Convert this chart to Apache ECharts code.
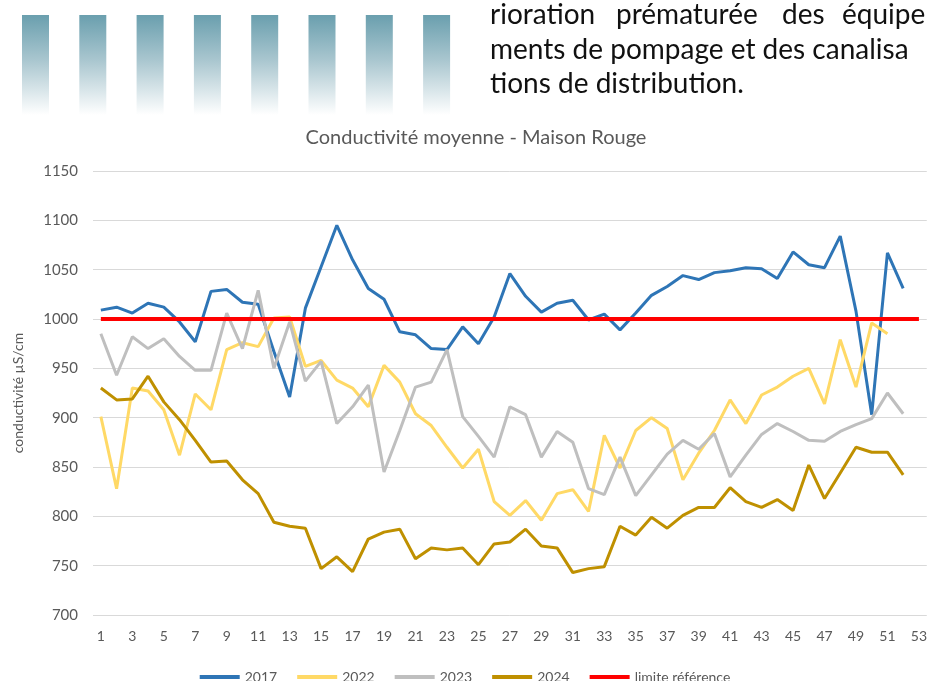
<!DOCTYPE html>
<html>
<head>
<meta charset="utf-8">
<title>Conductivité moyenne - Maison Rouge</title>
<script src="https://cdn.jsdelivr.net/npm/echarts@6/dist/echarts.min.js"></script>
<style>
    html, body {
        margin: 0;
        padding: 0;
        background: #fff;
    }
    #chart {
        width: 930px;
        height: 681px;
    }
</style>
</head>
<body>
<div id="chart"></div>
<script>
// semaines
const weeks = ['1', '2', '3', '4', '5', '6', '7', '8', '9', '10', '11', '12', '13', '14', '15', '16', '17', '18', '19', '20',
    '21', '22', '23', '24', '25', '26', '27', '28', '29', '30', '31', '32', '33', '34', '35', '36', '37', '38', '39', '40',
    '41', '42', '43', '44', '45', '46', '47', '48', '49', '50', '51', '52', '53']

const values2017 = [1009, 1012, 1006, 1016, 1012, 997, 977, 1028, 1030, 1017, 1015, 967, 921, 1011, 1053, 1095, 1060, 1031, 1020, 987,
    984, 970, 969, 992, 975, 1002, 1046, 1023, 1007, 1016, 1019, 999, 1005, 989, 1006, 1024, 1033, 1044, 1040, 1047,
    1049, 1052, 1051, 1041, 1068, 1055, 1052, 1084, 1008, 903, 1067, 1031]

const values2022 = [901, 828, 930, 927, 908, 862, 924, 908, 969, 976, 972, 1001, 1002, 952, 958, 938, 930, 911, 953, 936,
    904, 892, 870, 849, 868, 815, 801, 816, 796, 823, 827, 805, 882, 849, 887, 900, 889, 837, 864, 887,
    918, 894, 923, 931, 942, 950, 914, 979, 931, 996, 985]

const values2023 = [985, 943, 982, 970, 980, 962, 948, 948, 1006, 970, 1029, 950, 997, 937, 957, 894, 911, 933, 845, 887,
    931, 936, 969, 901, 881, 860, 911, 903, 860, 886, 875, 828, 822, 860, 821, 842, 863, 877, 868, 884,
    840, 862, 883, 894, 886, 877, 876, 886, 893, 899, 925, 904]

const values2024 = [930, 918, 919, 942, 916, 898, 877, 855, 856, 837, 823, 794, 790, 788, 747, 759, 744, 777, 784, 787,
    757, 768, 766, 768, 751, 772, 774, 787, 770, 768, 743, 747, 749, 790, 781, 799, 788, 801, 809, 809,
    829, 815, 809, 817, 806, 852, 818, 844, 870, 865, 865, 842]

// limite de référence
const limitValues = [1000, 1000, 1000, 1000, 1000, 1000, 1000, 1000, 1000, 1000, 1000, 1000, 1000, 1000, 1000, 1000, 1000, 1000,
    1000, 1000, 1000, 1000, 1000, 1000, 1000, 1000, 1000, 1000, 1000, 1000, 1000, 1000, 1000, 1000, 1000, 1000,
    1000, 1000, 1000, 1000, 1000, 1000, 1000, 1000, 1000, 1000, 1000, 1000, 1000, 1000, 1000, 1000, 1000]

const seriesNames = ['2017', '2022', '2023', '2024', 'limite référence']
const seriesColors = ['#2e75b6', '#ffd966', '#bfbfbf', '#bf9000', '#ff0000']

const textColor = '#595959'
const font = 'Lato, "Open Sans", sans-serif'

// bandes décoratives en haut de page
const decor = []
for (let i = 0; i < 8; i++) {
    decor.push({
        type: 'rect',
        shape: { x: 22 + i * 57.3, y: 15, width: 27, height: 100 },
        style: {
            fill: new echarts.graphic.LinearGradient(0, 0, 0, 1, [
                { offset: 0, color: '#6a9fae' },
                { offset: 0.45, color: '#a9c6cf' },
                { offset: 1, color: '#ffffff' }
            ])
        },
        silent: true
    })
}

// texte du document (coupé à droite)
const pageText = [
    { x: 490, y: 15, text: 'rioration' },
    { x: 616, y: 15, text: 'prématurée' },
    { x: 782, y: 15, text: 'des' },
    { x: 842, y: 15, text: 'équipe' },
    { x: 490, y: 50, text: 'ments de pompage et des canalisa' },
    { x: 490, y: 84, text: 'tions de distribution.' }
]
pageText.forEach(t => {
    decor.push({
        type: 'text',
        x: t.x,
        y: t.y,
        style: {
            text: t.text,
            fill: '#111',
            font: '28px ' + font,
            textVerticalAlign: 'middle'
        },
        silent: true
    })
})

const chart = echarts.init(document.getElementById('chart'))

const series = [values2017, values2022, values2023, values2024, limitValues].map((vals, i) => {
    return {
        name: seriesNames[i],
        type: 'line',
        data: vals,
        symbol: 'none',
        smooth: false,
        lineStyle: {
            width: i === 4 ? 4 : 3,
            color: seriesColors[i]
        },
        itemStyle: { color: seriesColors[i] },
        emphasis: { disabled: true }
    }
})

chart.setOption({
    animation: false,
    textStyle: { fontFamily: font },
    title: {
        text: 'Conductivité moyenne - Maison Rouge',
        left: 471,
        textAlign: 'center',
        top: 123,
        textStyle: {
            color: textColor,
            fontSize: 20,
            fontWeight: 'normal',
            fontFamily: font
        }
    },
    graphic: decor,
    legend: {
        data: seriesNames,
        left: 'center',
        top: 665,
        icon: 'rect',
        itemWidth: 40,
        itemHeight: 4,
        itemGap: 20,
        textStyle: {
            color: textColor,
            fontSize: 14,
            fontFamily: font
        }
    },
    grid: {
        left: 93,
        right: 0,
        top: 171,
        bottom: 66
    },
    xAxis: {
        type: 'category',
        data: weeks,
        boundaryGap: true,
        axisLine: { show: false },
        axisTick: { show: false },
        axisLabel: {
            interval: 1,
            color: textColor,
            fontSize: 14,
            margin: 14
        }
    },
    yAxis: {
        type: 'value',
        min: 700,
        max: 1150,
        interval: 50,
        name: 'conductivité µS/cm',
        nameLocation: 'middle',
        nameGap: 68,
        nameTextStyle: {
            color: textColor,
            fontSize: 14
        },
        axisLabel: {
            color: textColor,
            fontSize: 15,
            margin: 15,
            formatter: v => String(v)
        },
        splitLine: {
            lineStyle: { color: '#d9d9d9', width: 1 }
        }
    },
    series: series
})
</script>
</body>
</html>
